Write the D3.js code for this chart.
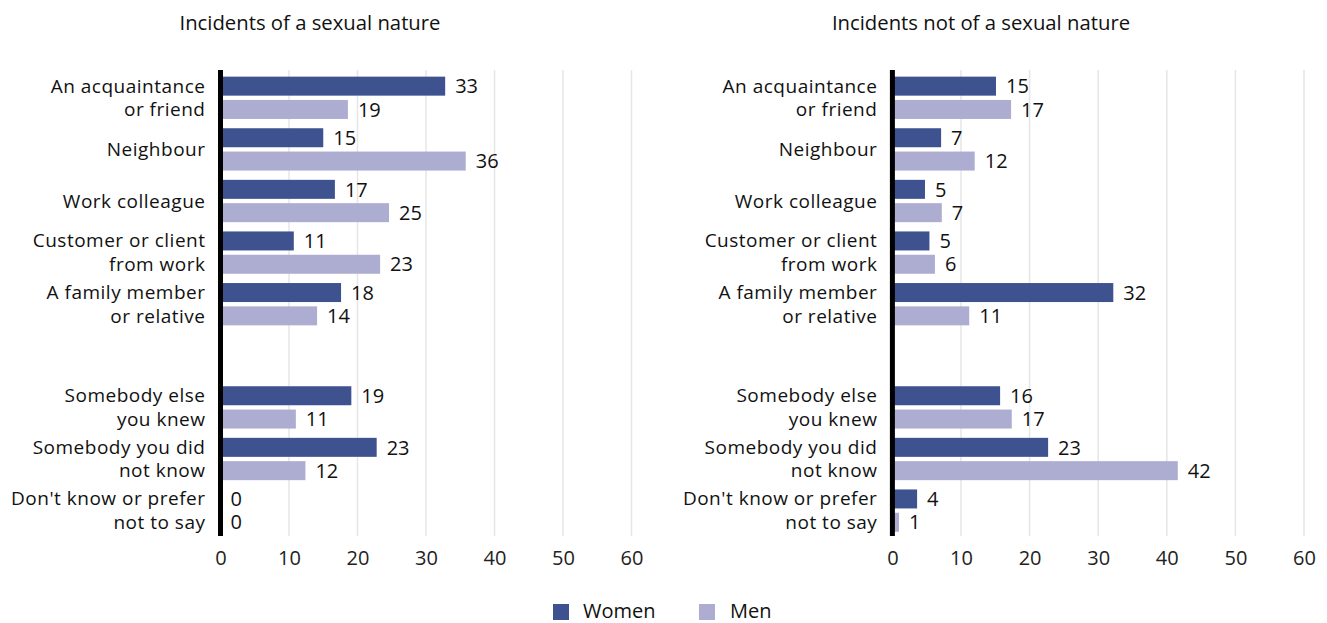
<!DOCTYPE html>
<html>
<head>
<meta charset="utf-8">
<script src="https://cdn.jsdelivr.net/npm/d3@7"></script>
<style>
  html, body { margin: 0; padding: 0; background: #fff; }
  svg { display: block; font-family: "Open Sans", "Noto Sans", sans-serif; }
</style>
</head>
<body>
<svg id="chart" width="1327" height="623"></svg>
<script>
// ---- data ----
const categories = [
  "An acquaintance\nor friend",
  "Neighbour",
  "Work colleague",
  "Customer or client\nfrom work",
  "A family member\nor relative",
  "__gap__",
  "Somebody else\nyou knew",
  "Somebody you did\nnot know",
  "Don't know or prefer\nnot to say"
];
const seriesNames = ["Women", "Men"];
const panelTitles = ["Incidents of a sexual nature", "Incidents not of a sexual nature"];
// values (null = spacer row)
const sexualWomen    = [32.8, 15.0, 16.7, 10.7, 17.6, null, 19.1, 22.8, 0];
const sexualMen      = [18.6, 35.8, 24.6, 23.3, 14.1, null, 11.0, 12.4, 0];
const nonSexualWomen = [15.1, 7.1, 4.75, 5.4, 32.2, null, 15.7, 22.7, 3.6];
const nonSexualMen   = [17.3, 12.0, 7.2, 6.2, 11.2, null, 17.4, 41.6, 0.96];
const xTicks = [0, 10, 20, 30, 40, 50, 60];
const colors = { Women: "#3e5290", Men: "#adadd2" };

// ---- layout ----
const svg = d3.select("#chart");
const panels = [
  { title: panelTitles[0], women: sexualWomen, men: sexualMen, x0: 220.5, x1: 631.5, titleX: 310 },
  { title: panelTitles[1], women: nonSexualWomen, men: nonSexualMen, x0: 892.4, x1: 1304, titleX: 981 }
];

const y = d3.scaleBand().domain(categories).range([72, 536.4]).paddingInner(0.18).paddingOuter(0.09);
const yInner = d3.scaleBand().domain(seriesNames).range([0, y.bandwidth()]).paddingInner(0.185);

panels.forEach(p => {
  const x = d3.scaleLinear().domain([0, 60]).range([p.x0, p.x1]);
  const g = svg.append("g");

  // title
  g.append("text").attr("x", p.titleX).attr("y", 30).attr("text-anchor", "middle")
    .attr("font-size", 20.3).attr("fill", "#111").text(p.title);

  // gridlines
  g.append("g").selectAll("line").data(xTicks.filter(d => d > 0)).join("line")
    .attr("x1", d => x(d)).attr("x2", d => x(d))
    .attr("y1", 70).attr("y2", 536)
    .attr("stroke", "#e6e6e6").attr("stroke-width", 1.5);

  // x axis tick labels
  const xAxis = d3.axisBottom(x).tickValues(xTicks).tickSize(0).tickPadding(0).tickFormat(d3.format("d"));
  const ax = g.append("g").attr("transform", "translate(0,549)").call(xAxis);
  ax.select(".domain").remove();
  ax.selectAll("text").attr("font-size", 20).attr("fill", "#222")
    .attr("font-family", "Open Sans, Noto Sans, sans-serif").attr("dy", "0.8em");

  // rows
  const rows = categories.map((c, i) => ({ cat: c, women: p.women[i], men: p.men[i] }))
    .filter(r => r.women !== null);

  rows.forEach(r => {
    const gy = y(r.cat);
    seriesNames.forEach(s => {
      const v = s === "Women" ? r.women : r.men;
      const by = gy + yInner(s);
      g.append("rect").attr("x", x(0)).attr("y", by)
        .attr("width", Math.max(0, x(v) - x(0))).attr("height", yInner.bandwidth())
        .attr("fill", colors[s]);
      g.append("text").attr("x", x(v) + 10).attr("y", by + yInner.bandwidth() / 2)
        .attr("dy", "0.36em").attr("font-size", 20).attr("fill", "#111")
        .text(d3.format(".0f")(v));
    });
    // category label
    const lines = r.cat.split("\n");
    const cy = gy + y.bandwidth() / 2;
    const t = g.append("text").attr("text-anchor", "end").attr("font-size", 19)
      .attr("letter-spacing", 0.5).attr("fill", "#111");
    lines.forEach((ln, i) => {
      t.append("tspan").attr("x", x(0) - 15)
        .attr("y", cy + (i - (lines.length - 1) / 2) * 23.5 + 6.6)
        .text(ln);
    });
  });

  // baseline axis
  g.append("line").attr("x1", x(0)).attr("x2", x(0)).attr("y1", 70).attr("y2", 536)
    .attr("stroke", "#000").attr("stroke-width", 5);
});

// legend
const legend = svg.append("g");
const legendItems = [{ name: "Women", x: 553, tx: 583 }, { name: "Men", x: 699, tx: 730 }];
legendItems.forEach(d => {
  legend.append("rect").attr("x", d.x).attr("y", 604).attr("width", 16).attr("height", 16).attr("fill", colors[d.name]);
  legend.append("text").attr("x", d.tx).attr("y", 618).attr("font-size", 20).attr("fill", "#111").text(d.name);
});
</script>
</body>
</html>
